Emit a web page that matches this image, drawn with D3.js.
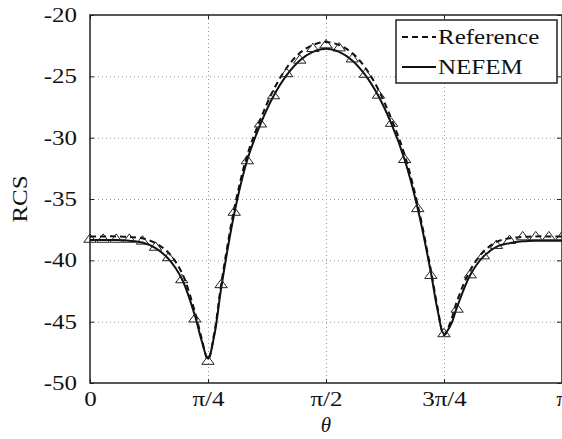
<!DOCTYPE html>
<html><head><meta charset="utf-8">
<script src="https://cdn.jsdelivr.net/npm/d3@7"></script>
<style>
html,body{margin:0;padding:0;background:#fff;}
svg text{font-family:"Liberation Serif","Times New Roman",serif;fill:#111;}
</style></head>
<body><svg id="c" width="562" height="439"></svg>
<script>
// ---- data (theta in degrees) ----
const lineTheta = [0,5,10,15,20,25,30,35,40,42.5,45,47.5,50,55,60,65,70,75,80,85,90,95,100,105,110,115,120,125,130,132.5,135,137.5,140,145,150,155,160,165,170,175,180];
const nefem = [-38.35,-38.35,-38.35,-38.4,-38.55,-39.0,-39.9,-41.5,-44.5,-46.5,-48.0,-46.0,-42.3,-36.2,-31.8,-28.9,-26.6,-24.9,-23.7,-23.0,-22.75,-23.0,-23.7,-24.9,-26.6,-28.9,-31.8,-35.8,-41.0,-44.0,-46.0,-45.3,-43.8,-41.2,-39.7,-38.9,-38.6,-38.45,-38.4,-38.4,-38.4];
const reference = [-38.05,-38.05,-38.05,-38.1,-38.2,-38.6,-39.4,-41.0,-44.2,-46.3,-48.1,-45.8,-42.0,-35.8,-31.4,-28.5,-26.1,-24.3,-23.1,-22.45,-22.2,-22.45,-23.1,-24.3,-26.1,-28.5,-31.4,-35.5,-40.8,-43.8,-46.1,-45.0,-43.3,-40.8,-39.3,-38.5,-38.2,-38.1,-38.05,-38.05,-38.05];
const markerTheta = [0,5,10,15,20,25,30,35,40,45,50,55,60,65,70,75,80,85,90,95,100,105,110,115,120,125,130,135,140,145,150,155,160,165,170,175,180];
const markerValues = [-38.3,-38.3,-38.3,-38.3,-38.45,-38.95,-39.8,-41.6,-44.8,-48.25,-42.0,-36.1,-31.9,-28.9,-26.6,-24.8,-23.7,-22.75,-22.45,-22.7,-23.6,-24.85,-26.55,-28.85,-31.8,-35.8,-41.25,-46.0,-44.0,-41.2,-39.65,-38.8,-38.4,-38.1,-38.1,-38.1,-38.1];
const xTickValues = [0,45,90,135,180];
const xTickLabels = ["0","π/4","π/2","3π/4","π"];
const yTickValues = [-50,-45,-40,-35,-30,-25,-20];
const yTickLabels = ["-50","-45","-40","-35","-30","-25","-20"];
const legendNames = ["Reference","NEFEM"];

// ---- layout ----
const L=90, R=562, T=15, B=383, STRETCH=1.25;
const svg=d3.select("#c");
const x=d3.scaleLinear().domain([0,180]).range([L,R]);
const y=d3.scaleLinear().domain([-50,-20]).range([B,T]);
function widen(sel){ sel.each(function(){ const w=this.getComputedTextLength(); if(w>0){ d3.select(this).attr("textLength",w*STRETCH).attr("lengthAdjust","spacingAndGlyphs"); } }); }

svg.append("defs").append("clipPath").attr("id","clip")
  .append("rect").attr("x",L).attr("y",T).attr("width",R-L).attr("height",B-T);

// grid
const grid=svg.append("g").attr("stroke","#999").attr("stroke-width",1).attr("stroke-dasharray","1,3");
xTickValues.slice(1,-1).forEach(v=>grid.append("line").attr("x1",x(v)+0.5).attr("x2",x(v)+0.5).attr("y1",T).attr("y2",B));
yTickValues.slice(1,-1).forEach(v=>grid.append("line").attr("y1",y(v)+0.5).attr("y2",y(v)+0.5).attr("x1",L).attr("x2",R));

// axes (inner ticks)
const fmtX=(d,i)=>xTickLabels[i], fmtY=(d,i)=>yTickLabels[i];
const axB=svg.append("g").attr("transform",`translate(0,${B})`)
  .call(d3.axisBottom(x).tickValues(xTickValues).tickFormat(fmtX).tickSizeInner(-4).tickSizeOuter(0).tickPadding(9));
const axL=svg.append("g").attr("transform",`translate(${L},0)`)
  .call(d3.axisLeft(y).tickValues(yTickValues).tickFormat(fmtY).tickSizeInner(-4).tickSizeOuter(0).tickPadding(13));
const axT=svg.append("g").attr("transform",`translate(0,${T})`)
  .call(d3.axisTop(x).tickValues(xTickValues).tickFormat("").tickSizeInner(-4).tickSizeOuter(0));
const axR=svg.append("g").attr("transform",`translate(${R-1},0)`)
  .call(d3.axisRight(y).tickValues(yTickValues).tickFormat("").tickSizeInner(-4).tickSizeOuter(0));
[axB,axL,axT,axR].forEach(a=>{a.select(".domain").remove(); a.selectAll("line").attr("stroke","#222");});
[axB,axL].forEach(a=>a.selectAll("text").attr("font-size",20).attr("font-family","Liberation Serif").attr("fill","#111"));
widen(axB.selectAll("text")); widen(axL.selectAll("text"));
// frame
svg.append("rect").attr("x",L).attr("y",T).attr("width",R-L).attr("height",B-T)
  .attr("fill","none").attr("stroke","#222").attr("stroke-width",1.5);

// lines
const plot=svg.append("g").attr("clip-path","url(#clip)");
const line=d3.line().x(d=>x(d[0])).y(d=>y(d[1])).curve(d3.curveCatmullRom.alpha(0.5));
plot.append("path").datum(lineTheta.map((t,i)=>[t,reference[i]]))
  .attr("d",line).attr("fill","none").attr("stroke","#111").attr("stroke-width",2).attr("stroke-dasharray","6,4");
plot.append("path").datum(lineTheta.map((t,i)=>[t,nefem[i]]))
  .attr("d",line).attr("fill","none").attr("stroke","#111").attr("stroke-width",2);
// triangle markers (open, slightly wide)
const wideTri={draw(ctx,size){const w=6.2,h=8.4;ctx.moveTo(0,-h*2/3);ctx.lineTo(w,h/3);ctx.lineTo(-w,h/3);ctx.closePath();}};
const tri=d3.symbol().type(wideTri);
svg.append("g").selectAll("path").data(markerTheta.map((t,i)=>[t,markerValues[i]])).join("path")
  .attr("d",tri).attr("transform",d=>`translate(${x(d[0])},${y(d[1])})`)
  .attr("fill","none").attr("stroke","#222").attr("stroke-width",1);

// axis titles
svg.append("text").attr("x",(L+R)/2).attr("y",432).attr("text-anchor","middle").attr("font-size",21).attr("font-style","italic").text("θ");
const rcs=svg.append("text").attr("transform","translate(27,199) rotate(-90)").attr("text-anchor","middle").attr("font-size",20).text("RCS");
widen(rcs);

// legend
const lg=svg.append("g");
lg.append("rect").attr("x",396).attr("y",20).attr("width",161).attr("height",63).attr("fill","#fff").attr("stroke","#222").attr("stroke-width",1.5);
const dashes=["6,4",null];
legendNames.forEach((n,i)=>{
  const yy=37+i*30;
  lg.append("line").attr("x1",402).attr("x2",436).attr("y1",yy).attr("y2",yy).attr("stroke","#111").attr("stroke-width",2).attr("stroke-dasharray",dashes[i]);
  const t=lg.append("text").attr("x",438).attr("y",yy+7).attr("font-size",20).text(n);
  widen(t);
});
</script></body></html>
